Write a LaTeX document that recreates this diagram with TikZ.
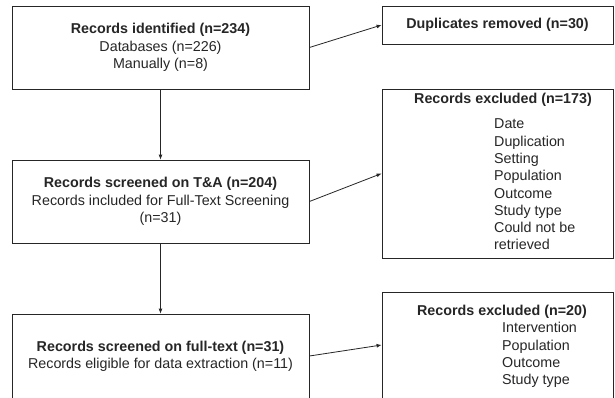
\documentclass[tikz,border=0pt]{standalone}
\usepackage{fontspec}
\setmainfont{Liberation Sans}
\usetikzlibrary{arrows.meta}
\begin{document}
\begin{tikzpicture}[x=1pt,y=-1pt,
  box/.style={draw=black!85, line width=0.8pt, inner sep=0pt, align=center,
    font=\fontsize{14.3}{17.3}\selectfont, text=black!85},
  txt/.style={inner sep=0pt, font=\fontsize{14.3}{17.3}\selectfont, text=black!85},
  conn/.style={draw=black!85, line width=0.8pt, -{Latex[length=5pt,width=4pt]}}]
\useasboundingbox (0,0) rectangle (615,397);
\fill[white] (0,0) rectangle (615,397);
\node[box, minimum width=297pt, minimum height=83pt] (ident) at (160.5,47.5)
  {\textbf{Records identified (n=234)}\\Databases (n=226)\\Manually (n=8)};
\node[box, minimum width=297pt, minimum height=83pt] (screen) at (160.5,201.5)
  {\textbf{Records screened on T\&A (n=204)}\\Records included for Full-Text Screening\\(n=31)};
\node[box, minimum width=297pt, minimum height=84pt] (full) at (160.5,356)
  {\textbf{Records screened on full-text (n=31)}\\Records eligible for data extraction (n=11)};
\node[box, minimum width=231pt, minimum height=38pt] (dup) at (497.5,25)
  {\textbf{Duplicates removed (n=30)}};
\node[box, minimum width=231pt, minimum height=169pt] (exa) at (497.5,173.5) {};
\node[txt] (exat) at (503,100) {\textbf{Records excluded (n=173)}};
\node[txt, align=left, anchor=west] (exal) at (494,184.5)
  {Date\\Duplication\\Setting\\Population\\Outcome\\Study type\\Could not be\\retrieved};
\node[box, minimum width=231pt, minimum height=106pt] (exb) at (497.5,345) {};
\node[txt] (exbt) at (502,312) {\textbf{Records excluded (n=20)}};
\node[txt, align=left, anchor=west] (exbl) at (502,355)
  {Intervention\\Population\\Outcome\\Study type};
\draw[conn] (ident.south) -- (screen.north);
\draw[conn] (screen.south) -- (full.north);
\draw[conn] (ident.east) -- (dup.west);
\draw[conn] (screen.east) -- (exa.west);
\draw[conn] (full.east) -- (exb.west);
\end{tikzpicture}
\end{document}
